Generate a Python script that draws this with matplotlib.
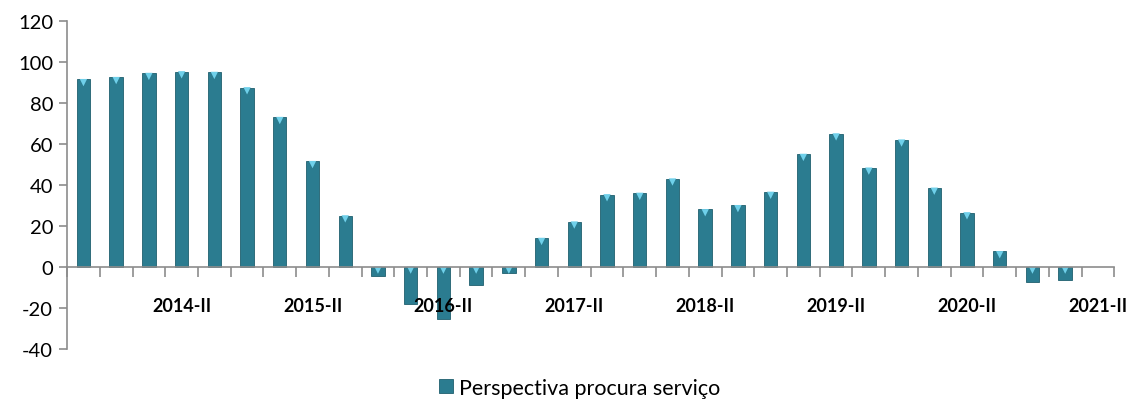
import matplotlib
matplotlib.use("Agg")
import matplotlib.pyplot as plt
import numpy as np

# quarters 2013-III .. 2021-II (last one has no value yet)
quarters = [f"{y}-{q}" for y in range(2013, 2022) for q in ("I", "II", "III", "IV")][2:34]
values = [91.5, 92.5, 94.5, 95.3, 95.0, 87.5, 73.0, 51.5, 25.0, -4.5,
          -18.0, -25.5, -9.0, -3.0, 14.0, 22.0, 35.3, 36.0, 43.0, 28.0,
          30.0, 36.5, 55.0, 65.0, 48.3, 62.0, 38.5, 26.5, 7.5, -7.5, -6.5]
series_name = "Perspectiva procura serviço"

plt.rcParams["font.family"] = ["Lato", "DejaVu Sans"]
plt.rcParams["axes.unicode_minus"] = False

fig = plt.figure(figsize=(11.37, 4.14), dpi=100)
ax = fig.add_axes([0.059, 0.155, 0.921, 0.792])
ax.set_axisbelow(False)  # category labels sit on top of the bars

x = np.arange(len(values))
bar_color = "#2b7c90"
ax.bar(x, values, width=0.41, color=bar_color, edgecolor="#1f5f6e", linewidth=0.6,
       label=series_name, zorder=2)
tops = np.maximum(values, 0)
ax.scatter(x, tops - 1.6, marker="v", s=28, color="#6fd0ea", edgecolors="none", zorder=2.1)

ax.set_xlim(-0.5, len(quarters) - 0.5)
ax.set_ylim(-40, 120)
ax.set_yticks(range(-40, 121, 20))

for side in ("top", "right"):
    ax.spines[side].set_visible(False)
ax.spines["bottom"].set_position(("data", 0))
for side in ("left", "bottom"):
    ax.spines[side].set_color("#8c8c8c")
    ax.spines[side].set_linewidth(1.2)

# category boundaries as ticks, labels every fourth quarter
ax.set_xticks(np.arange(-0.5, len(quarters)), minor=True)
ax.tick_params(axis="x", which="minor", length=7, width=1.2, color="#8c8c8c", direction="out")
label_idx = [i for i, q in enumerate(quarters) if q.endswith("-II")]
ax.set_xticks(label_idx)
ax.set_xticklabels([quarters[i] for i in label_idx], fontsize=13, fontweight="bold")
ax.tick_params(axis="x", which="major", length=0, pad=22)
ax.tick_params(axis="y", length=6, width=1.2, color="#8c8c8c", labelsize=14.5, pad=4)

leg = fig.legend(loc="lower center", bbox_to_anchor=(0.51, -0.01), frameon=False,
                 fontsize=15.5, handlelength=0.65, handleheight=0.65, handletextpad=0.3)

fig.savefig("out.png", dpi=100, facecolor="white")
